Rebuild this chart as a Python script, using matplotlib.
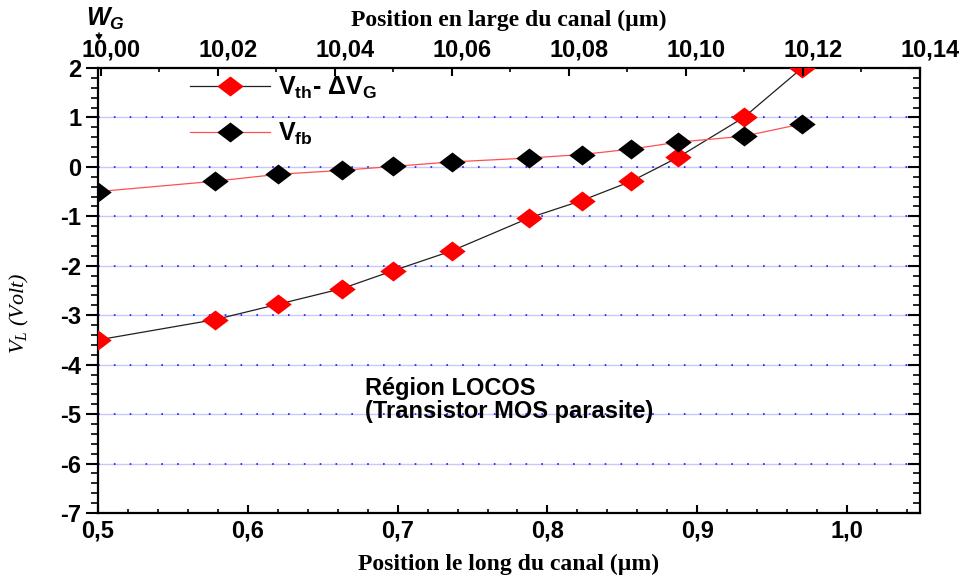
import matplotlib
matplotlib.use("Agg")
import matplotlib.pyplot as plt
import matplotlib.transforms as mtransforms
from matplotlib.ticker import MultipleLocator, FuncFormatter

# Position along the channel (µm)
position = [0.500, 0.578, 0.620, 0.663, 0.697, 0.736, 0.788, 0.823, 0.856, 0.887, 0.931, 0.970]
# Threshold voltage minus gate shift (V)
vth_minus_dvg = [-3.50, -3.09, -2.78, -2.46, -2.10, -1.70, -1.03, -0.68, -0.29, 0.19, 1.00, 2.00]
# Flat-band voltage (V)
vfb = [-0.50, -0.29, -0.15, -0.07, 0.01, 0.10, 0.18, 0.25, 0.36, 0.50, 0.62, 0.87]

bottom_ticks = [0.5, 0.6, 0.7, 0.8, 0.9, 1.0]
top_ticks = [10.00, 10.02, 10.04, 10.06, 10.08, 10.10, 10.12, 10.14]
y_ticks = [2, 1, 0, -1, -2, -3, -4, -5, -6, -7]

SANS = "Liberation Sans"
SERIF = "Liberation Serif"

W, H = 970, 578
fig = plt.figure(figsize=(W / 100, H / 100), dpi=100)
ax = fig.add_axes([98 / W, 1 - 513 / H, (920 - 98) / W, (513 - 68) / H])

# flattened diamond marker
diamond = [(0, 0.76), (1, 0), (0, -0.76), (-1, 0), (0, 0.76)]

# horizontal grid: pale solid line with blue dots on top
for yv in y_ticks[1:-1]:
    ax.axhline(yv, color="#c8c8fa", lw=1.0, zorder=0.5)
    ax.axhline(yv, color="#1a1aff", lw=1.2, ls=(0, (1.0, 8.5)), zorder=0.6)

ax.plot(position, vth_minus_dvg, color="#202020", lw=0.9, marker=diamond,
        markersize=19, markerfacecolor="#ff0000", markeredgecolor="#ff0000",
        markeredgewidth=0, zorder=3,
        label=r"$\mathregular{V_{th}}$- $\mathregular{\Delta V_G}$")
ax.plot(position, vfb, color="#ff5050", lw=0.9, marker=diamond,
        markersize=19, markerfacecolor="black", markeredgecolor="black",
        markeredgewidth=0, zorder=3,
        label=r"$\mathregular{V_{fb}}$")

ax.set_xlim(0.5, 1.0487)
ax.set_ylim(-7, 2)

ax.set_xticks(bottom_ticks)
ax.xaxis.set_minor_locator(MultipleLocator(0.02))
ax.xaxis.set_major_formatter(FuncFormatter(lambda v, p: f"{v:.1f}".replace(".", ",")))
ax.set_yticks(y_ticks)
ax.yaxis.set_minor_locator(MultipleLocator(0.2))
ax.yaxis.set_major_formatter(FuncFormatter(lambda v, p: f"{v:.0f}"))

for s in ax.spines.values():
    s.set_linewidth(1.6)

ax.tick_params(axis="x", which="major", direction="in", length=6, width=1.5,
               pad=5, labelsize=17)
ax.tick_params(axis="x", which="minor", direction="in", length=3, width=1.2)
ax.tick_params(axis="y", which="major", direction="out", length=9, width=1.5,
               pad=3, labelsize=17, right=True)
ax.tick_params(axis="y", which="minor", direction="out", length=5, width=1.2,
               right=True)
# ticks on the right spine point inward
for t in ax.yaxis.get_major_ticks() + ax.yaxis.get_minor_ticks():
    t.tick2line.set_marker(matplotlib.lines.TICKLEFT)
for lab in ax.get_xticklabels() + ax.get_yticklabels():
    lab.set_fontfamily(SANS)
    lab.set_fontweight("bold")

ax.set_xlabel("Position le long du canal (µm)", fontfamily=SERIF,
              fontweight="bold", fontsize=17, labelpad=8)
ax.set_ylabel(r"$\mathregular{V_L}$ (Volt)", fontfamily=SERIF, fontstyle="italic",
              fontsize=16)
ax.yaxis.set_label_coords(-0.082, 0.45)

# width-wise scale on top
top = ax.twiny()
top.set_xlim(9.9995, 10.14)
top.set_xticks(top_ticks)
top.xaxis.set_minor_locator(MultipleLocator(0.01))
top.xaxis.set_major_formatter(FuncFormatter(lambda v, p: f"{v:.2f}".replace(".", ",")))
top.tick_params(axis="x", which="major", direction="in", length=6, width=1.5,
                pad=5, labelsize=17)
top.tick_params(axis="x", which="minor", direction="in", length=3, width=1.2)
shift = mtransforms.ScaledTranslation(10 / 100, 0, fig.dpi_scale_trans)
for lab in top.get_xticklabels():
    lab.set_fontfamily(SANS)
    lab.set_fontweight("bold")
    lab.set_transform(lab.get_transform() + shift)
for s in top.spines.values():
    s.set_visible(False)
top.set_xlabel("Position en large du canal (µm)", fontfamily=SERIF,
               fontweight="bold", fontsize=17, labelpad=9)

leg = ax.legend(loc="upper left", bbox_to_anchor=(190 / W, 1 - 75 / H),
                bbox_transform=fig.transFigure, frameon=False,
                prop={"family": SANS, "weight": "bold", "size": 18},
                handlelength=3.2, handletextpad=0.3, labelspacing=0.8,
                borderpad=0, borderaxespad=0)

ax.text(365 / W, 1 - 400 / H, "Région LOCOS\n(Transistor MOS parasite)",
        transform=fig.transFigure, fontfamily=SANS, fontweight="bold",
        fontsize=17, va="center", ha="left", linespacing=1.05)

# gate width marker
fig.text(86 / W, 1 - 19 / H, r"$\mathregular{W_G}$", fontfamily=SANS,
         fontweight="bold", fontstyle="italic", fontsize=18, va="center", ha="left")
fig.add_artist(matplotlib.patches.FancyArrowPatch(
    (99 / W, 1 - 30 / H), (99 / W, 1 - 43 / H), transform=fig.transFigure,
    arrowstyle="-|>,head_length=3,head_width=2", color="black", lw=1.0))

fig.savefig("out.png", dpi=100)
